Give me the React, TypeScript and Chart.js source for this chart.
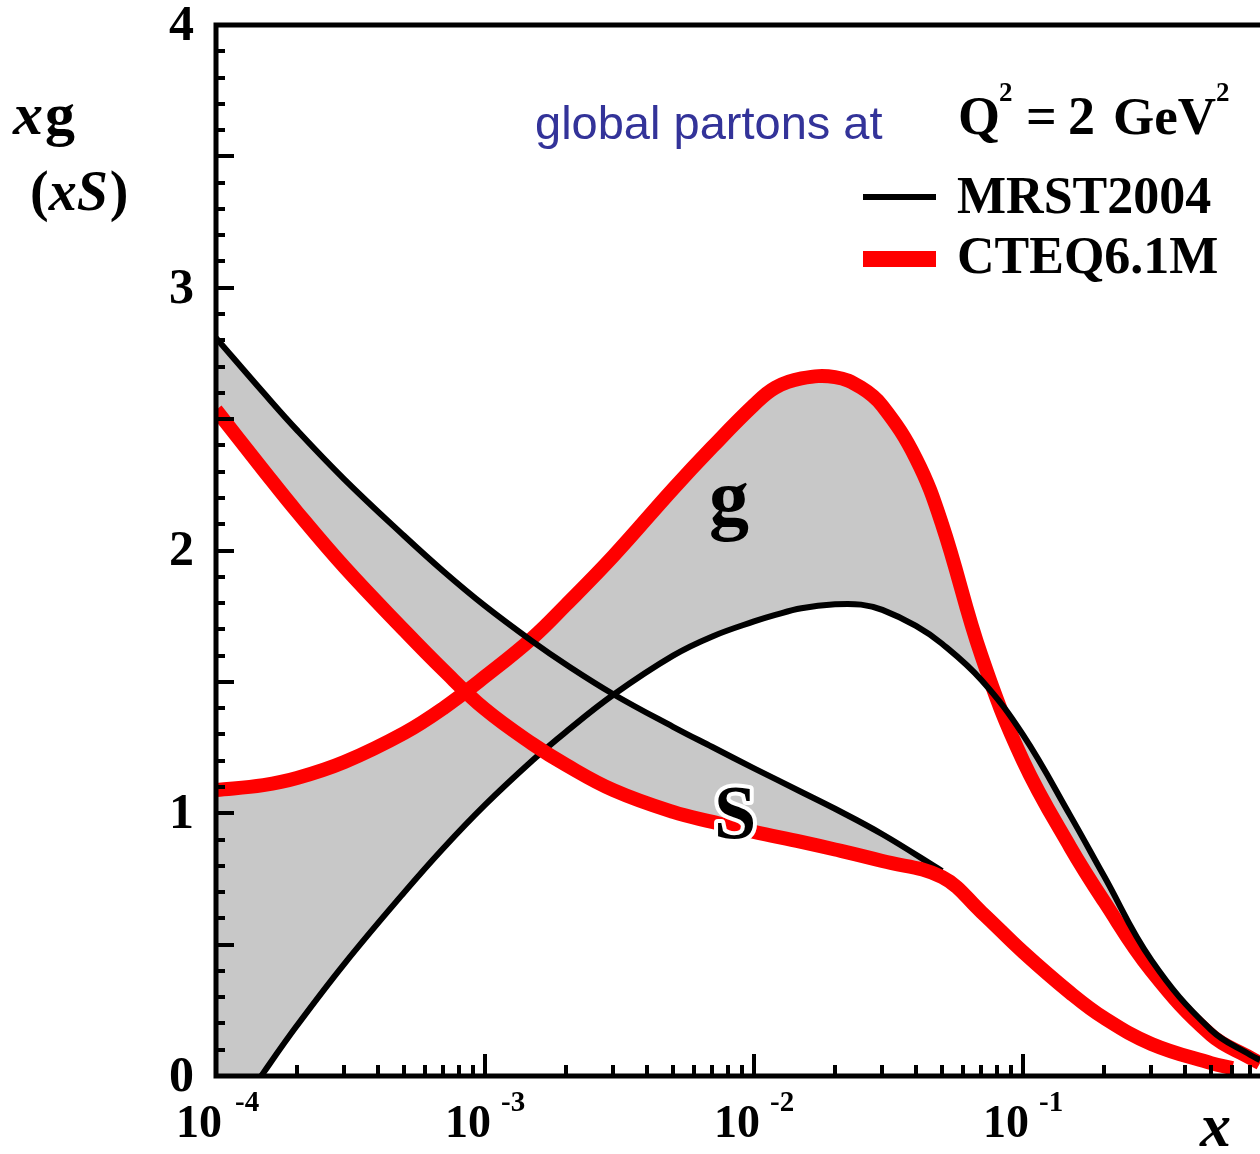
import React, { useEffect, useRef } from "react";
import { Chart, registerables } from "chart.js";

Chart.register(...registerables);

// ---- data ----
const gluonX = [1e-4, 1.5e-4, 2e-4, 3e-4, 5e-4, 7e-4, 1e-3, 1.5e-3, 2e-3, 3e-3, 5e-3, 7e-3, 1e-2, 1.2e-2, 1.5e-2, 2e-2, 2.5e-2, 3e-2, 4e-2, 5e-2, 7e-2, 0.1, 0.15, 0.2, 0.3, 0.5, 0.7, 0.76];
const mrstGluon = [-0.25, 0.012, 0.192, 0.427, 0.698, 0.867, 1.032, 1.201, 1.31, 1.451, 1.6, 1.673, 1.73, 1.755, 1.78, 1.795, 1.794, 1.774, 1.713, 1.645, 1.507, 1.298, 0.99, 0.761, 0.441, 0.175, 0.08, 0.061];
const cteqGluon = [1.088, 1.107, 1.134, 1.195, 1.305, 1.4, 1.52, 1.667, 1.793, 1.979, 2.234, 2.394, 2.554, 2.62, 2.655, 2.66, 2.62, 2.55, 2.35, 2.1, 1.6, 1.2, 0.87, 0.665, 0.4, 0.156, 0.069, 0.049];

const mrstSeaX = [1e-4, 1.5e-4, 2e-4, 3e-4, 5e-4, 7e-4, 1e-3, 1.5e-3, 2e-3, 3e-3, 5e-3, 7e-3, 1e-2, 1.5e-2, 2e-2, 3e-2, 5e-2];
const mrstSea = [2.809, 2.601, 2.458, 2.271, 2.056, 1.921, 1.789, 1.654, 1.566, 1.453, 1.329, 1.252, 1.171, 1.081, 1.017, 0.92, 0.78];

const cteqSeaX = [1e-4, 1.5e-4, 2e-4, 3e-4, 5e-4, 7e-4, 1e-3, 1.5e-3, 2e-3, 3e-3, 5e-3, 7e-3, 1e-2, 1.5e-2, 2e-2, 3e-2, 5e-2, 7e-2, 0.1, 0.15, 0.2, 0.3, 0.5, 0.6];
const cteqSea = [2.535, 2.306, 2.147, 1.937, 1.697, 1.545, 1.396, 1.264, 1.184, 1.088, 1.005, 0.967, 0.929, 0.891, 0.862, 0.818, 0.757, 0.624, 0.472, 0.316, 0.221, 0.122, 0.049, 0.03];

const yTickLabels = ["0", "1", "2", "3", "4"];
const xDecades = [-4, -3, -2, -1];
const xTickExponents = ["-4", "-3", "-2", "-1"];
const legendLabels = ["MRST2004", "CTEQ6.1M"];

const X_MIN = 1e-4;
const X_MAX = 0.76;
const BLACK = "#000000";
const RED = "#ff0000";
const GRAY = "#c8c8c8";
const BLUE = "#333399";
const SERIF = '"Liberation Serif", "Times New Roman", serif';
const SANS = '"Liberation Sans", Arial, sans-serif';

const toPts = (xs: number[], ys: number[]) => xs.map((x, i) => ({ x, y: ys[i] }));

const overlayPlugin = {
  id: "overlay",
  afterDraw(chart: any) {
    const { ctx, chartArea, scales } = chart;
    const { left, top, bottom } = chartArea;
    const W = chart.width;
    const xs = scales.x;
    const ys = scales.y;
    ctx.save();

    // axes / frame
    ctx.strokeStyle = BLACK;
    ctx.lineWidth = 5;
    ctx.lineCap = "square";
    ctx.beginPath();
    ctx.moveTo(left, top);
    ctx.lineTo(W + 5, top);
    ctx.moveTo(left, top);
    ctx.lineTo(left, bottom);
    ctx.lineTo(W + 5, bottom);
    ctx.stroke();

    // y ticks (inside)
    ctx.lineCap = "butt";
    ctx.lineWidth = 4;
    ctx.beginPath();
    for (let i = 1; i < 40; i++) {
      const v = i / 10;
      const py = Math.round(ys.getPixelForValue(v));
      const len = i % 5 === 0 ? 18 : 9;
      ctx.moveTo(left, py);
      ctx.lineTo(left + len, py);
    }
    ctx.stroke();

    // x ticks (inside)
    ctx.beginPath();
    for (const d of xDecades) {
      for (let m = 1; m <= 9; m++) {
        const v = m * Math.pow(10, d);
        if (v <= X_MIN * 1.0001 || v > X_MAX) continue;
        const px = Math.round(xs.getPixelForValue(v));
        const len = m === 1 ? 22 : 11;
        ctx.moveTo(px, bottom);
        ctx.lineTo(px, bottom - len);
      }
    }
    ctx.stroke();

    // y tick labels
    ctx.fillStyle = BLACK;
    ctx.font = `bold 50px ${SERIF}`;
    ctx.textAlign = "right";
    ctx.textBaseline = "middle";
    yTickLabels.forEach((t, i) => {
      ctx.fillText(t, 194, ys.getPixelForValue(i) + 2);
    });

    // x tick labels 10^n
    xDecades.forEach((d, i) => {
      const px = xs.getPixelForValue(Math.pow(10, d));
      ctx.textAlign = "right";
      ctx.textBaseline = "alphabetic";
      ctx.font = `bold 46px ${SERIF}`;
      ctx.fillText("10", px + 6, 1137);
      ctx.textAlign = "left";
      ctx.font = `bold 29px ${SERIF}`;
      ctx.fillText(xTickExponents[i], px + (i === 0 ? 19 : 16), 1111);
    });

    // axis titles
    ctx.textAlign = "left";
    ctx.textBaseline = "alphabetic";
    ctx.font = `bold italic 62px ${SERIF}`;
    ctx.fillText("x", 1200, 1146);

    ctx.font = `bold italic 60px ${SERIF}`;
    ctx.fillText("x", 13, 134);
    const w = ctx.measureText("x").width;
    ctx.font = `bold 60px ${SERIF}`;
    ctx.fillText("g", 13 + w + 2, 134);

    ctx.font = `bold 56px ${SERIF}`;
    ctx.fillText("(", 30, 210);
    let cx = 30 + ctx.measureText("(").width;
    ctx.font = `bold italic 56px ${SERIF}`;
    ctx.fillText("xS", cx, 210);
    cx += ctx.measureText("xS").width + 2;
    ctx.font = `bold 56px ${SERIF}`;
    ctx.fillText(")", cx, 210);

    // caption
    ctx.fillStyle = BLUE;
    ctx.font = `47px ${SANS}`;
    ctx.fillText("global partons at", 535, 139);

    ctx.fillStyle = BLACK;
    ctx.font = `bold 54px ${SERIF}`;
    ctx.fillText("Q", 958, 134);
    ctx.fillText("=", 1026, 134);
    ctx.fillText("2", 1068, 134);
    ctx.font = `bold 53px ${SERIF}`;
    ctx.fillText("GeV", 1113, 134);
    ctx.font = `bold 27px ${SERIF}`;
    ctx.fillText("2", 999, 101);
    ctx.fillText("2", 1216, 101);

    // legend
    ctx.lineCap = "butt";
    ctx.strokeStyle = BLACK;
    ctx.lineWidth = 6;
    ctx.beginPath();
    ctx.moveTo(863, 197);
    ctx.lineTo(936, 197);
    ctx.stroke();
    ctx.strokeStyle = RED;
    ctx.lineWidth = 16;
    ctx.beginPath();
    ctx.moveTo(863, 259);
    ctx.lineTo(936, 259);
    ctx.stroke();
    ctx.fillStyle = BLACK;
    ctx.font = `bold 52px ${SERIF}`;
    ctx.fillText(legendLabels[0], 957, 213);
    ctx.fillText(legendLabels[1], 957, 273);

    // curve labels
    ctx.font = `bold 80px ${SERIF}`;
    ctx.fillText("g", 709, 525);
    ctx.font = `bold 76px ${SERIF}`;
    ctx.lineJoin = "round";
    ctx.strokeStyle = "#ffffff";
    ctx.lineWidth = 8;
    ctx.strokeText("S", 714, 838);
    ctx.fillText("S", 714, 838);

    ctx.restore();
  },
};

export default function App() {
  const ref = useRef<HTMLCanvasElement>(null);

  useEffect(() => {
    if (!ref.current) return;
    const chart = new Chart(ref.current, {
      type: "line",
      data: {
        datasets: [
          {
            label: "CTEQ6.1M S",
            data: toPts(cteqSeaX, cteqSea),
            borderColor: RED,
            borderWidth: 14,
            fill: false,
          },
          {
            label: "MRST2004 g",
            data: toPts(gluonX, mrstGluon),
            borderColor: BLACK,
            borderWidth: 6,
            backgroundColor: GRAY,
            fill: 3,
          },
          {
            label: "MRST2004 S",
            data: toPts(mrstSeaX, mrstSea),
            borderColor: BLACK,
            borderWidth: 6,
            backgroundColor: GRAY,
            fill: 0,
          },
          {
            label: "CTEQ6.1M g",
            data: toPts(gluonX, cteqGluon),
            borderColor: RED,
            borderWidth: 14,
            fill: false,
          },
        ],
      } as any,
      options: {
        animation: false,
        responsive: false,
        maintainAspectRatio: false,
        layout: { padding: { top: 25, left: 0, right: 0, bottom: 0 } },
        elements: {
          point: { radius: 0, hoverRadius: 0 },
          line: { tension: 0.4, cubicInterpolationMode: "default", borderCapStyle: "butt", borderJoinStyle: "round" },
        },
        plugins: {
          legend: { display: false },
          tooltip: { enabled: false },
          filler: { drawTime: "beforeDatasetsDraw" },
        } as any,
        scales: {
          x: {
            type: "logarithmic",
            min: X_MIN,
            max: X_MAX,
            ticks: { display: false },
            grid: { display: false },
            border: { display: false },
            afterFit: (s: any) => {
              s.height = 78;
            },
          },
          y: {
            type: "linear",
            min: 0,
            max: 4,
            ticks: { display: false },
            grid: { display: false },
            border: { display: false },
            afterFit: (s: any) => {
              s.width = 216;
            },
          },
        } as any,
      },
      plugins: [overlayPlugin],
    });
    return () => chart.destroy();
  }, []);

  return (
    <div style={{ position: "absolute", left: 0, top: 0, width: 1260, height: 1154, background: "#ffffff", overflow: "hidden" }}>
      <canvas ref={ref} width={1260} height={1154} style={{ display: "block", width: 1260, height: 1154 }} />
    </div>
  );
}
